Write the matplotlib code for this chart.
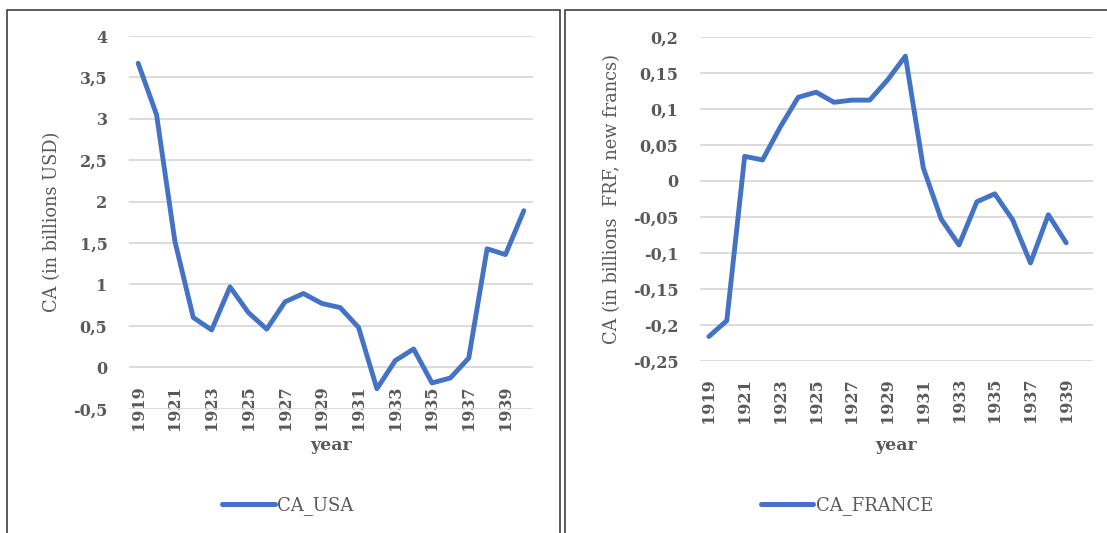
import matplotlib.pyplot as plt
from matplotlib.patches import Rectangle
from matplotlib.ticker import FuncFormatter, MultipleLocator

years = list(range(1919, 1941))
ca_usa = [3.67, 3.05, 1.52, 0.60, 0.45, 0.97, 0.66, 0.46, 0.79, 0.89, 0.77,
          0.72, 0.48, -0.26, 0.08, 0.22, -0.19, -0.13, 0.11, 1.43, 1.36, 1.89]
years_fr = list(range(1919, 1940))
ca_france = [-0.216, -0.194, 0.034, 0.029, 0.075, 0.116, 0.123, 0.109, 0.112,
             0.112, 0.140, 0.173, 0.018, -0.053, -0.089, -0.029, -0.018,
             -0.054, -0.114, -0.047, -0.086]
tick_years = [str(y) for y in range(1919, 1941, 2)]

BLUE = "#4472C4"
GRID = "#d9d9d9"
TXT = "#595959"
SERIF = "DejaVu Serif"

fig = plt.figure(figsize=(11.07, 5.33), dpi=100)
W, H = 1107, 533

# panel borders, pixel coords
for x0, x1 in [(7, 560), (565, 1112)]:
    fig.patches.append(Rectangle((x0 / W, -0.05), (x1 - x0) / W, (H - 10) / H + 0.05,
                                 transform=fig.transFigure, fill=False,
                                 edgecolor="#404040", lw=1.2))


def comma(v, pos):
    s = "%g" % round(v, 4)
    return s.replace(".", ",")


def style(ax, ylabel, xpad):
    for s in ax.spines.values():
        s.set_visible(False)
    ax.grid(axis="y", color=GRID, lw=1.3)
    ax.set_axisbelow(True)
    ax.tick_params(length=0, colors=TXT, labelsize=11.5)
    ax.tick_params(axis="x", pad=xpad)
    ax.tick_params(axis="y", pad=15.5)
    ax.yaxis.set_major_formatter(FuncFormatter(comma))
    ax.set_xticks(range(0, 21, 2))
    ax.set_xticklabels(tick_years, rotation=90)
    for t in ax.get_xticklabels() + ax.get_yticklabels():
        t.set_family(SERIF)
        t.set_fontweight("bold")
    ax.set_xlim(-0.5, 21.5)
    ax.set_xlabel("year", family=SERIF, fontsize=12.5, color=TXT, fontweight="bold")
    ax.set_ylabel(ylabel, family=SERIF, fontsize=12.8, color=TXT)


def add_legend(ax, xc):
    leg = ax.legend(loc="center", bbox_to_anchor=(xc / W, 1 - 506 / H),
                    bbox_transform=fig.transFigure, frameon=False,
                    handlelength=2.9, handletextpad=0.15,
                    prop={"family": SERIF, "size": 13}, labelcolor=TXT)
    for h in leg.get_lines():
        h.set_linewidth(3.6)
        h.set_solid_capstyle("round")


# USA
ax1 = fig.add_axes([129 / W, 1 - 408.6 / H, 404 / W, (408.6 - 36) / H])
ax1.plot(range(len(years)), ca_usa, color=BLUE, lw=3.5, label="CA_USA",
         solid_joinstyle="round", solid_capstyle="round")
ax1.set_ylim(-0.5, 4)
ax1.yaxis.set_major_locator(MultipleLocator(0.5))
ax1.spines["bottom"].set_position(("data", 0))
style(ax1, "CA (in billions USD)", 13)
ax1.xaxis.set_label_coords(0.5, -0.076)
ax1.yaxis.set_label_coords(-0.168, 0.5)
add_legend(ax1, 288)

# France
ax2 = fig.add_axes([700 / W, 1 - 361 / H, 393 / W, (361 - 36.7) / H])
ax2.plot(range(len(years_fr)), ca_france, color=BLUE, lw=3.5, label="CA_FRANCE",
         solid_joinstyle="round", solid_capstyle="round")
ax2.set_ylim(-0.25, 0.2)
ax2.yaxis.set_major_locator(MultipleLocator(0.05))
style(ax2, "CA (in billions  FRF, new francs)", 12.2)
ax2.xaxis.set_label_coords(0.5, -0.234)
ax2.yaxis.set_label_coords(-0.201, 0.5)
add_legend(ax2, 847)

fig.savefig("out.png", dpi=100)
